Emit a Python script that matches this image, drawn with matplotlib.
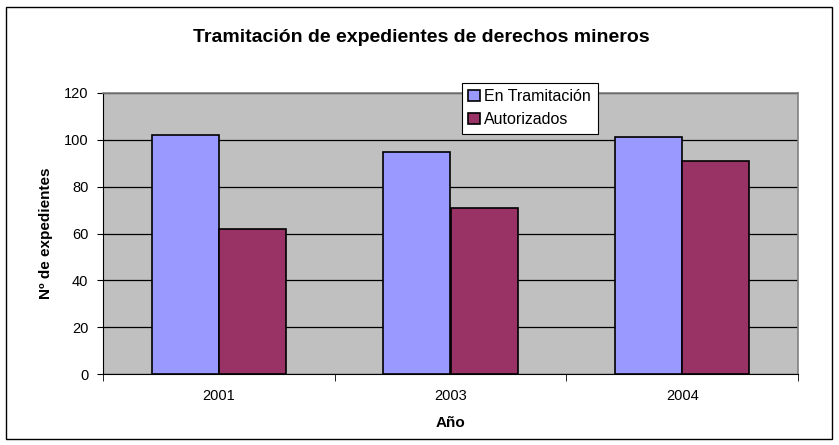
import matplotlib
matplotlib.use("Agg")
import matplotlib.pyplot as plt
from matplotlib.patches import Rectangle
import numpy as np

years = ["2001", "2003", "2004"]
en_tramitacion = [102, 95, 101]
autorizados = [62, 71, 91]
series_names = ["En Tramitación", "Autorizados"]
y_ticks = [0, 20, 40, 60, 80, 100, 120]

plt.rcParams["font.family"] = ["Liberation Sans", "DejaVu Sans"]

fig = plt.figure(figsize=(8.39, 4.45), dpi=100)
ax = fig.add_axes([103 / 839, 1 - 374 / 445, 695 / 839, 281 / 445])

# outer chart frame
fig.patches.append(Rectangle((6 / 839, 6 / 445), 826 / 839, 432 / 445,
                             transform=fig.transFigure, fill=False,
                             edgecolor="black", linewidth=1.0))

x = np.arange(len(years))
w = 0.29
ax.set_facecolor("#C0C0C0")
ax.bar(x - w / 2, en_tramitacion, w, color="#9999FF", edgecolor="black",
       linewidth=1.2, label=series_names[0], zorder=3)
ax.bar(x + w / 2, autorizados, w, color="#993366", edgecolor="black",
       linewidth=1.2, label=series_names[1], zorder=3)

ax.set_xlim(-0.5, len(years) - 0.5)
ax.set_ylim(0, 120)
ax.set_yticks(y_ticks)
ax.set_yticklabels([str(v) for v in y_ticks], fontsize=10.5)
ax.yaxis.grid(True, color="black", linewidth=0.9, zorder=1)
ax.set_axisbelow(True)

ax.set_xticks(x)
ax.set_xticklabels(years, fontsize=10.5)
ax.tick_params(axis="x", length=0, pad=11)
ax.set_xticks(np.arange(-0.5, len(years), 1.0), minor=True)
ax.tick_params(axis="x", which="minor", length=5, direction="out", color="black")
ax.tick_params(axis="y", length=4.5, direction="out", pad=6)

for side in ["top", "right"]:
    ax.spines[side].set_color("#808080")
    ax.spines[side].set_linewidth(1.2)
ax.spines["left"].set_color("black")
ax.spines["bottom"].set_color("black")

ax.set_xlabel("Año", fontsize=11, fontweight="bold", labelpad=9)
ax.set_ylabel("Nº de expedientes", fontsize=11, fontweight="bold", labelpad=8)
fig.text(421 / 839, 1 - 38 / 445, "Tramitación de expedientes de derechos mineros",
         ha="center", va="center", fontsize=14, fontweight="bold")

leg = ax.legend(loc="upper left", bbox_to_anchor=(462 / 839, 1 - 83 / 445),
                bbox_transform=fig.transFigure, fontsize=11.5, frameon=True,
                fancybox=False, edgecolor="black", framealpha=1,
                handlelength=0.7, handleheight=0.7, handletextpad=0.3,
                borderpad=0.4, labelspacing=0.5, borderaxespad=0)
leg.get_frame().set_linewidth(0.8)

fig.savefig("out.png", dpi=100)
